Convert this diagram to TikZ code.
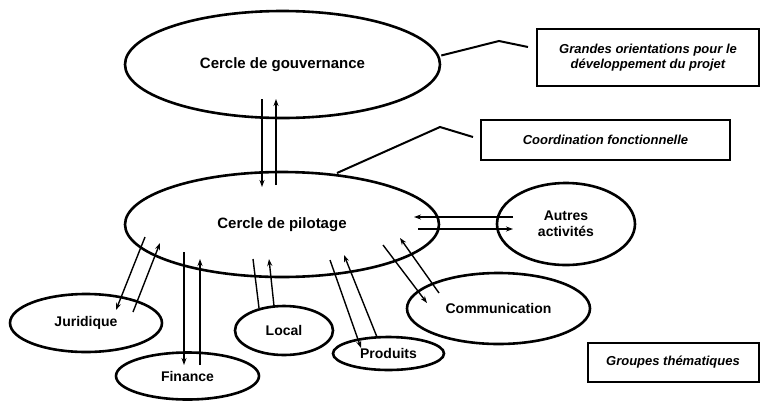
\documentclass[tikz,border=0pt]{standalone}
\usepackage{fontspec}
\setmainfont{Liberation Sans}
\usetikzlibrary{shapes.geometric,arrows.meta}
\tikzset{
  circ/.style={draw, ellipse, line width=2.6pt, inner sep=0pt, font=\bfseries\fontsize{14}{16}\selectfont, align=center},
  bigcirc/.style={circ, font=\bfseries\fontsize{15}{17}\selectfont},
  note/.style={draw, line width=2pt, inner sep=0pt, font=\bfseries\itshape\fontsize{13}{15.5}\selectfont, align=center},
  flow/.style={line width=1.4pt, -{Stealth[length=7pt,width=5pt]}},
  plain/.style={line width=1.4pt},
  callout/.style={line width=2pt}
}
\begin{document}
\begin{tikzpicture}[x=1pt,y=-1pt]
\path[use as bounding box, fill=white] (0,0) rectangle (760,400);

% ellipses
\node[bigcirc, minimum width=315pt, minimum height=107pt] (gov) at (282.5,64.5) {Cercle de gouvernance};
\node[bigcirc, minimum width=314pt, minimum height=105pt] (pil) at (282,224.5) {Cercle de pilotage};
\node[circ, minimum width=138pt, minimum height=82pt] (aut) at (566,224) {Autres\\activités};
\node[circ, minimum width=183pt, minimum height=71pt] (com) at (498.5,308.5) {Communication};
\node[circ, minimum width=111pt, minimum height=33pt] (pro) at (388.5,353.5) {Produits};
\node[circ, minimum width=98pt, minimum height=49pt] (loc) at (284,330.5) {Local};
\node[circ, minimum width=143pt, minimum height=47pt] (fin) at (187.5,376) {Finance};
\node[circ, minimum width=152pt, minimum height=58pt] (jur) at (86,323) {Juridique};

% boxes
\node[note, minimum width=222pt, minimum height=57pt] (b1) at (648,57.5) {Grandes orientations pour le\\développement du projet};
\node[note, minimum width=249pt, minimum height=40pt] (b2) at (605.5,140) {Coordination fonctionnelle};
\node[note, minimum width=171pt, minimum height=39pt] (b3) at (673,362.5) {Groupes thématiques};

% callout lines
\coordinate (c1a) at (499,41);
\coordinate (c1b) at (528,47);
\draw[callout] (gov.east) ++(0,-9) -- (c1a) -- (c1b);
\coordinate (c2s) at (337,173);
\coordinate (c2a) at (440,127);
\coordinate (c2b) at (473,137);
\draw[callout] (c2s) -- (c2a) -- (c2b);

% governance <-> pilotage
\coordinate (g1) at (262,99);  \coordinate (p1) at (262,187);
\coordinate (g2) at (276,99);  \coordinate (p2) at (276,185);
\draw[flow] (g1) -- (p1);
\draw[flow] (p2) -- (g2);

% pilotage <-> autres
\coordinate (a1) at (513,217); \coordinate (q1) at (414,217);
\coordinate (q2) at (418,229); \coordinate (a2) at (513,229);
\draw[flow] (a1) -- (q1);
\draw[flow] (q2) -- (a2);

% pilotage <-> communication
\coordinate (k1) at (383,245); \coordinate (m1) at (427,303);
\coordinate (m2) at (439,293); \coordinate (k2) at (400,238);
\draw[flow] (k1) -- (m1);
\draw[flow] (m2) -- (k2);

% pilotage <-> produits
\coordinate (r1) at (330,260); \coordinate (s1) at (361,348);
\coordinate (s2) at (377,337); \coordinate (r2) at (344,255);
\draw[flow] (r1) -- (s1);
\draw[flow] (s2) -- (r2);

% pilotage <-> local
\coordinate (l1) at (253,259); \coordinate (n1) at (259,308);
\coordinate (n2) at (274,306); \coordinate (l2) at (269,259);
\draw[plain] (l1) -- (n1);
\draw[flow] (n2) -- (l2);

% pilotage <-> finance
\coordinate (f1) at (184,252); \coordinate (h1) at (184,365);
\coordinate (h2) at (200,365); \coordinate (f2) at (200,259);
\draw[flow] (f1) -- (h1);
\draw[flow] (h2) -- (f2);

% pilotage <-> juridique
\coordinate (j1) at (145,237); \coordinate (t1) at (116,310);
\coordinate (t2) at (133,312); \coordinate (j2) at (160,243);
\draw[flow] (j1) -- (t1);
\draw[flow] (t2) -- (j2);
\end{tikzpicture}
\end{document}
